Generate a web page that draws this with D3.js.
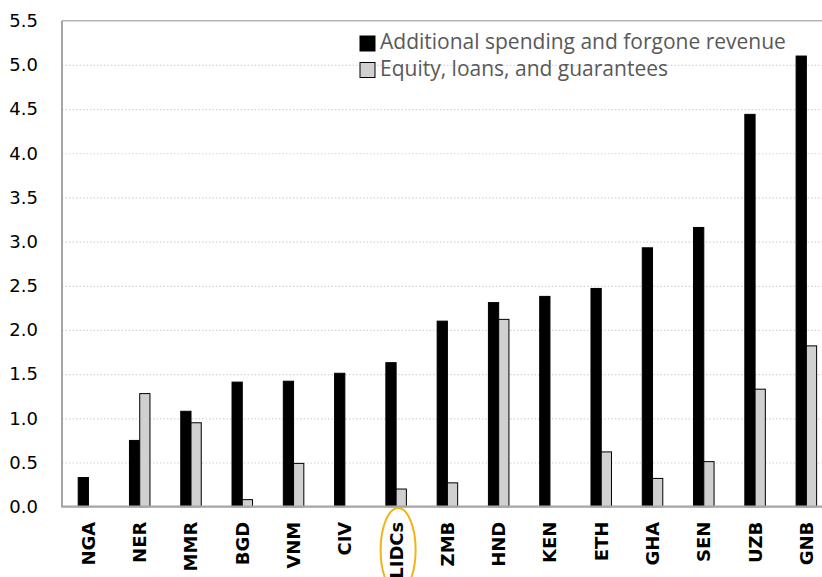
<!DOCTYPE html>
<html>
<head>
<meta charset="utf-8">
<script src="https://cdnjs.cloudflare.com/ajax/libs/d3/7.8.5/d3.min.js"></script>
<style>
  body { margin: 0; background: #fff; }
  svg { display: block; }
</style>
</head>
<body>
<div id="chart"></div>
<script>
// data
var countries = ["NGA", "NER", "MMR", "BGD", "VNM", "CIV", "LIDCs", "ZMB", "HND", "KEN", "ETH", "GHA", "SEN", "UZB", "GNB"];
var spending = [0.33, 0.75, 1.08, 1.41, 1.42, 1.51, 1.63, 2.10, 2.31, 2.38, 2.47, 2.93, 3.16, 4.44, 5.10];
var equity = [0, 1.28, 0.95, 0.08, 0.49, 0, 0.20, 0.27, 2.12, 0, 0.62, 0.32, 0.51, 1.33, 1.82];
var seriesNames = ["Additional spending and forgone revenue", "Equity, loans, and guarantees"];
var yTicks = [0, 0.5, 1.0, 1.5, 2.0, 2.5, 3.0, 3.5, 4.0, 4.5, 5.0, 5.5];

var width = 822, height = 577;
var plot = { left: 62, top: 20.7, bottom: 506.7, right: 832 };
var colors = ["#000000", "#d0d0d0"];

var svg = d3.select("#chart")
    .append("svg")
    .attr("width", width)
    .attr("height", height);

var x0 = d3.scaleBand()
    .domain(countries)
    .range([plot.left + 0.8, plot.right])
    .paddingInner(0.6)
    .paddingOuter(0.3);

var x1 = d3.scaleBand()
    .domain([0, 1])
    .range([0, x0.bandwidth()]);

var y = d3.scaleLinear()
    .domain([0, 5.5])
    .range([plot.bottom, plot.top]);

// gridlines
svg.append("g")
    .attr("transform", "translate(" + plot.left + ",0)")
    .call(d3.axisLeft(y).tickValues(yTicks.slice(1, -1)).tickSize(-(plot.right - plot.left)).tickFormat(""))
    .call(g => g.select(".domain").remove())
    .call(g => g.selectAll("line")
        .attr("stroke", "#d4d4d4")
        .attr("stroke-width", 1.2)
        .attr("stroke-dasharray", "1.5,2"));

// y tick labels
svg.append("g")
    .attr("transform", "translate(" + plot.left + ",0)")
    .call(d3.axisLeft(y).tickValues(yTicks).tickSize(0).tickPadding(24).tickFormat(d3.format(".1f")))
    .call(g => g.select(".domain").remove())
    .call(g => g.selectAll("text")
        .attr("fill", "#000")
        .style("font-family", "DejaVu Sans, sans-serif")
        .style("font-size", "18px"));

// bars
var rows = countries.map(function (c, i) { return { c: c, v: [spending[i], equity[i]] }; });

var groups = svg.append("g")
    .selectAll("g")
    .data(rows)
    .join("g")
    .attr("transform", function (d) { return "translate(" + x0(d.c) + ",0)"; });

groups.selectAll("rect")
    .data(function (d) { return d.v.map(function (v, k) { return { k: k, v: v }; }).filter(function (e) { return e.v > 0; }); })
    .join("rect")
    .attr("x", function (d) { return x1(d.k); })
    .attr("y", function (d) { return y(d.v); })
    .attr("width", x1.bandwidth())
    .attr("height", function (d) { return y(0) - y(d.v); })
    .attr("fill", function (d) { return colors[d.k]; })
    .attr("stroke", "#000")
    .attr("stroke-width", 1);

// plot frame
svg.append("line")
    .attr("x1", plot.left).attr("x2", width)
    .attr("y1", plot.top).attr("y2", plot.top)
    .attr("stroke", "#b3b3b3").attr("stroke-width", 1.5);
svg.append("line")
    .attr("x1", plot.left).attr("x2", plot.left)
    .attr("y1", plot.top).attr("y2", plot.bottom)
    .attr("stroke", "#a6a6a6").attr("stroke-width", 2);

// x axis
svg.append("g")
    .attr("transform", "translate(0," + plot.bottom + ")")
    .call(d3.axisBottom(x0).tickSize(0).tickPadding(0))
    .call(g => g.select(".domain")
        .attr("d", "M" + (plot.left - 1) + ",0H" + width)
        .attr("stroke", "#a6a6a6")
        .attr("stroke-width", 2.2))
    .call(g => g.selectAll("text")
        .attr("transform", "rotate(-90)")
        .attr("x", -15)
        .attr("y", 0)
        .attr("dy", "0.36em")
        .attr("text-anchor", "end")
        .attr("fill", "#000")
        .style("font-family", "DejaVu Sans, sans-serif")
        .style("font-weight", "bold")
        .style("font-size", "18px"));

// highlight around LIDCs
svg.append("ellipse")
    .attr("cx", x0("LIDCs") + x0.bandwidth() / 2 + 2)
    .attr("cy", 550)
    .attr("rx", 17.5)
    .attr("ry", 42)
    .attr("fill", "none")
    .attr("stroke", "#f2b318")
    .attr("stroke-width", 2);

// legend
var legend = svg.append("g")
    .selectAll("g")
    .data(seriesNames)
    .join("g")
    .attr("transform", function (d, i) { return "translate(360," + (36 + i * 26.5) + ")"; });

legend.append("rect")
    .attr("width", 15)
    .attr("height", 15)
    .attr("fill", function (d, i) { return colors[i]; })
    .attr("stroke", "#000")
    .attr("stroke-width", 1);

legend.append("text")
    .attr("x", 20)
    .attr("y", 13)
    .attr("fill", "#595959")
    .style("font-family", "Open Sans, sans-serif")
    .style("font-size", "21px")
    .text(function (d) { return d; });
</script>
</body>
</html>
